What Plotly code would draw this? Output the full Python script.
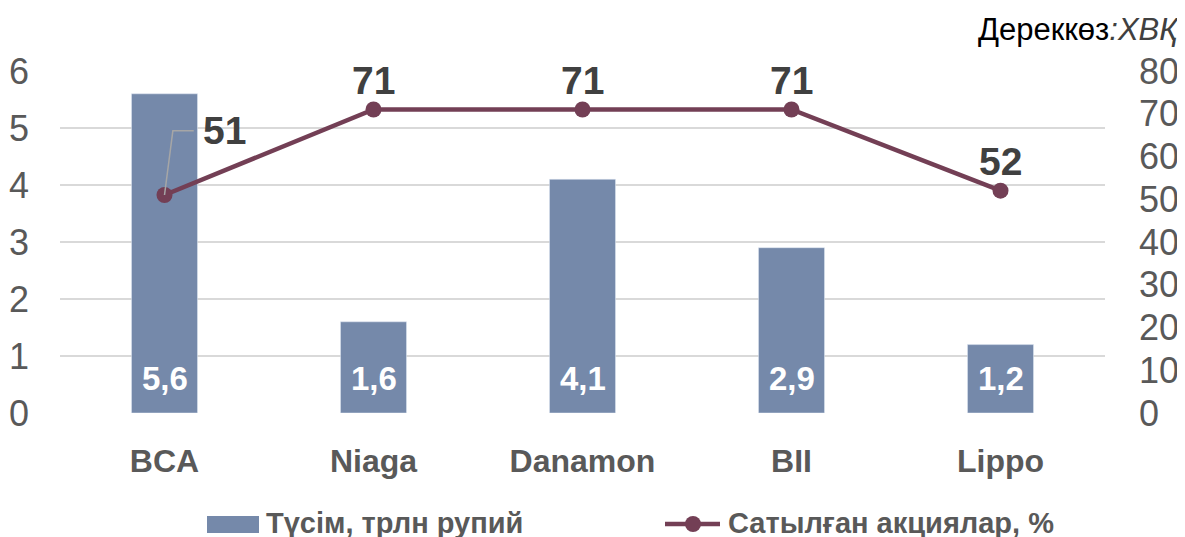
import plotly.graph_objects as go

categories = ["BCA", "Niaga", "Danamon", "BII", "Lippo"]
revenue = [5.6, 1.6, 4.1, 2.9, 1.2]
shares_sold = [51, 71, 71, 71, 52]
bar_name = "Түсім, трлн рупий"
line_name = "Сатылған акциялар, %"
left_ticks = [0, 1, 2, 3, 4, 5, 6]
right_ticks = [0, 10, 20, 30, 40, 50, 60, 70, 80]
source_main = "Дереккөз"
source_org = ":ХВҚ"

BAR_C = "#7589AA"
LINE_C = "#733F55"
FONT = "Liberation Sans, Arial"
W, H = 1185, 537
OFF = 8  # page body margin offset
# target plot area in viewport pixels: x 60..1105, y 71..413
L = 60 - OFF
T = 71 - OFF
R = W - (1105 - OFF)
B = H - (413 - OFF)
pw, ph = W - L - R, H - T - B

def px_x(p):
    return (p - OFF - L) / pw

def px_y(p):
    return (H - B - (p - OFF)) / ph

fig = go.Figure()
fig.add_trace(go.Bar(x=list(range(len(categories))), y=revenue, marker_color=BAR_C,
                     width=0.316, name=bar_name, showlegend=False))
fig.add_trace(go.Scatter(x=list(range(len(categories))), y=shares_sold, yaxis="y2",
                         mode="lines+markers", line=dict(color=LINE_C, width=4.5),
                         marker=dict(size=16, color=LINE_C), name=line_name, showlegend=False))

# leader line for first label
v0 = shares_sold[0]
fig.add_trace(go.Scatter(x=[0, 0.04, 0.14], y=[v0, v0 + 15, v0 + 15], yaxis="y2",
                         mode="lines", line=dict(color="#A6A6A6", width=1.5),
                         hoverinfo="skip", showlegend=False))

ann = []
for i, v in enumerate(revenue):
    ann.append(dict(x=i, y=0, xref="x", yref="y", text=f"{v:.1f}".replace(".", ","),
                    showarrow=False, yanchor="bottom", yshift=14,
                    font=dict(family=FONT, size=33, color="white", weight="bold")))
for i, v in enumerate(shares_sold):
    if i == 0:
        ann.append(dict(x=0.175, y=v + 15, xref="x", yref="y2", text=str(v), showarrow=False,
                        xanchor="left", yanchor="middle",
                        font=dict(family=FONT, size=39, color="#404040", weight="bold")))
    else:
        ann.append(dict(x=i, y=v, xref="x", yref="y2", text=str(v), showarrow=False,
                        yanchor="middle", yshift=29,
                        font=dict(family=FONT, size=39, color="#404040", weight="bold")))

ann.append(dict(x=px_x(1181), y=px_y(30), xref="paper", yref="paper",
                text=f"{source_main}<i><span style='color:#404040'>{source_org}</span></i>",
                showarrow=False, xanchor="right", yanchor="middle",
                font=dict(family=FONT, size=31, color="black")))
# manual legend
ann.append(dict(x=px_x(264), y=px_y(523), xref="paper", yref="paper", text=bar_name,
                showarrow=False, xanchor="left", yanchor="middle",
                font=dict(family=FONT, size=29, color="#595959", weight="bold")))
ann.append(dict(x=px_x(726), y=px_y(523), xref="paper", yref="paper", text=line_name,
                showarrow=False, xanchor="left", yanchor="middle",
                font=dict(family=FONT, size=29, color="#595959", weight="bold")))

shapes = [
    dict(type="rect", xref="paper", yref="paper", x0=px_x(207), x1=px_x(259),
         y0=px_y(533), y1=px_y(516), fillcolor=BAR_C, line=dict(width=0)),
    dict(type="line", xref="paper", yref="paper", x0=px_x(665), x1=px_x(720),
         y0=px_y(524), y1=px_y(524), line=dict(color=LINE_C, width=4.5)),
    dict(type="circle", xref="paper", yref="paper", xsizemode="pixel", ysizemode="pixel",
         xanchor=px_x(693), yanchor=px_y(524), x0=-8, x1=8, y0=-8, y1=8,
         fillcolor=LINE_C, line=dict(width=0)),
]

fig.update_layout(
    width=W, height=H, margin=dict(l=L, r=R, t=T, b=B, autoexpand=False),
    paper_bgcolor="white", plot_bgcolor="white",
    annotations=ann, shapes=shapes, showlegend=False,
    xaxis=dict(range=[-0.5, len(categories) - 0.5], tickmode="array",
               tickvals=list(range(len(categories))), ticktext=categories,
               showgrid=False, zeroline=False, showline=False, ticks="",
               ticklabelstandoff=26, automargin=False,
               tickfont=dict(family=FONT, size=32, color="#595959", weight="bold")),
    yaxis=dict(range=[0, 6], tickvals=left_ticks, showgrid=True, gridcolor="#D9D9D9",
               gridwidth=2, zeroline=False, showline=False, ticks="",
               ticklabelstandoff=30, automargin=False,
               tickfont=dict(family=FONT, size=36, color="#595959")),
    yaxis2=dict(range=[0, 80], tickvals=right_ticks, overlaying="y", side="right",
                showgrid=False, zeroline=False, showline=False, ticks="",
                ticklabelstandoff=33, automargin=False,
                tickfont=dict(family=FONT, size=36, color="#595959")),
)

fig.write_html("out.html")
